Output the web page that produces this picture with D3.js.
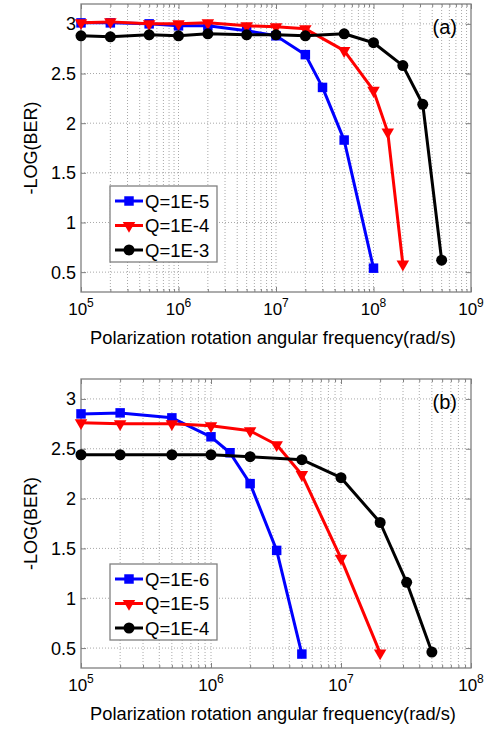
<!DOCTYPE html>
<html>
<head>
<meta charset="utf-8">
<script src="https://cdn.jsdelivr.net/npm/d3@7"></script>
<style>
  body { margin: 0; background: #fff; }
  text { font-family: "Liberation Sans", Arial, sans-serif; fill: #000; }
</style>
</head>
<body>
<div id="chart"></div>
<script>
// ---- panel (a) data ----
const aBlueX  = [1e5, 2e5, 5e5, 1e6, 2e6, 5e6, 1e7, 2e7, 3e7, 5e7, 1e8];
const aBlueY  = [3.01, 3.01, 3.0, 2.98, 2.98, 2.93, 2.88, 2.69, 2.36, 1.83, 0.54];
const aRedX   = [1e5, 2e5, 5e5, 1e6, 2e6, 5e6, 1e7, 2e7, 5e7, 1e8, 1.4e8, 2e8];
const aRedY   = [3.01, 3.02, 3.0, 3.0, 3.01, 2.98, 2.97, 2.95, 2.73, 2.33, 1.91, 0.58];
const aBlackX = [1e5, 2e5, 5e5, 1e6, 2e6, 5e6, 1e7, 2e7, 5e7, 1e8, 2e8, 3.2e8, 5e8];
const aBlackY = [2.88, 2.87, 2.89, 2.88, 2.9, 2.89, 2.89, 2.88, 2.9, 2.81, 2.58, 2.19, 0.62];
const aLegend = ['Q=1E-5', 'Q=1E-4', 'Q=1E-3'];
const aExponents = [5, 6, 7, 8, 9];

// ---- panel (b) data ----
const bBlueX  = [1e5, 2e5, 5e5, 1e6, 1.4e6, 2e6, 3.2e6, 5e6];
const bBlueY  = [2.85, 2.86, 2.81, 2.62, 2.46, 2.15, 1.48, 0.44];
const bRedX   = [1e5, 2e5, 5e5, 1e6, 2e6, 3.2e6, 5e6, 1e7, 2e7];
const bRedY   = [2.76, 2.75, 2.75, 2.73, 2.68, 2.54, 2.24, 1.40, 0.45];
const bBlackX = [1e5, 2e5, 5e5, 1e6, 2e6, 5e6, 1e7, 2e7, 3.2e7, 5e7];
const bBlackY = [2.44, 2.44, 2.44, 2.44, 2.42, 2.39, 2.21, 1.76, 1.16, 0.46];
const bLegend = ['Q=1E-6', 'Q=1E-5', 'Q=1E-4'];
const bExponents = [5, 6, 7, 8];

// shared y ticks
const yTicks = [0.5, 1, 1.5, 2, 2.5, 3];
const yTickLabels = ['0.5', '1', '1.5', '2', '2.5', '3'];
const yDomain = [0.3, 3.2];
const xTitle = 'Polarization rotation angular frequency(rad/s)';
const yTitle = '-LOG(BER)';

const W = 489, H = 732;
const svg = d3.select('#chart').append('svg')
  .attr('width', W).attr('height', H);

const frameColor = '#808080';
const gridColor = '#a8a8a8';

function drawPanel(p) {
  const left = 81, right = 471;
  const x = d3.scaleLog().domain([10 ** p.exps[0], 10 ** p.exps[p.exps.length - 1]]).range([left, right]);
  const y = d3.scaleLinear().domain(yDomain).range([p.bottom, p.top]);
  const g = svg.append('g');

  // minor + major x positions
  const majors = p.exps.map(e => 10 ** e);
  const minors = [];
  p.exps.slice(0, -1).forEach(e => {
    for (let k = 2; k <= 9; k++) minors.push(k * 10 ** e);
  });

  // grid (dotted)
  g.selectAll('.xgrid')
    .data(majors.concat(minors).filter(v => v > x.domain()[0] && v < x.domain()[1]))
    .join('line')
    .attr('x1', d => x(d)).attr('x2', d => x(d))
    .attr('y1', p.top).attr('y2', p.bottom)
    .attr('stroke', gridColor).attr('stroke-width', 1)
    .attr('stroke-dasharray', '1,2');
  g.selectAll('.ygrid')
    .data(yTicks)
    .join('line')
    .attr('x1', left).attr('x2', right)
    .attr('y1', d => y(d)).attr('y2', d => y(d))
    .attr('stroke', gridColor).attr('stroke-width', 1)
    .attr('stroke-dasharray', '1,2');

  // axes with inward ticks, box on all sides
  const bottomAxis = g.append('g').attr('transform', `translate(0,${p.bottom})`)
    .call(d3.axisBottom(x).tickValues(majors).tickSize(-5).tickSizeOuter(0).tickFormat(''));
  const bottomMinor = g.append('g').attr('transform', `translate(0,${p.bottom})`)
    .call(d3.axisBottom(x).tickValues(minors).tickSize(-3).tickSizeOuter(0).tickFormat(''));
  const topAxis = g.append('g').attr('transform', `translate(0,${p.top})`)
    .call(d3.axisTop(x).tickValues(majors).tickSize(-5).tickSizeOuter(0).tickFormat(''));
  const topMinor = g.append('g').attr('transform', `translate(0,${p.top})`)
    .call(d3.axisTop(x).tickValues(minors).tickSize(-3).tickSizeOuter(0).tickFormat(''));
  const leftAxis = g.append('g').attr('transform', `translate(${left},0)`)
    .call(d3.axisLeft(y).tickValues(yTicks).tickSize(-5).tickSizeOuter(0).tickFormat(''));
  const rightAxis = g.append('g').attr('transform', `translate(${right},0)`)
    .call(d3.axisRight(y).tickValues(yTicks).tickSize(-5).tickSizeOuter(0).tickFormat(''));
  [bottomAxis, bottomMinor, topAxis, topMinor, leftAxis, rightAxis].forEach(a => {
    a.selectAll('line').attr('stroke', frameColor);
    a.select('.domain').remove();
  });
  g.append('rect')
    .attr('x', left).attr('y', p.top)
    .attr('width', right - left).attr('height', p.bottom - p.top)
    .attr('fill', 'none').attr('stroke', frameColor).attr('stroke-width', 1.3);

  // tick labels
  g.selectAll('.ylab')
    .data(yTicks)
    .join('text')
    .attr('x', left - 5).attr('y', d => y(d)).attr('dy', '0.36em')
    .attr('text-anchor', 'end').style('font-size', '18px')
    .text((d, i) => yTickLabels[i]);

  const xl = g.selectAll('.xlab')
    .data(p.exps)
    .join('text')
    .attr('x', d => x(10 ** d)).attr('y', p.bottom + 23)
    .attr('text-anchor', 'middle').style('font-size', '17px');
  xl.append('tspan').text('10');
  xl.append('tspan').attr('dy', -8).style('font-size', '12px').text(d => d);

  // axis titles
  g.append('text')
    .attr('x', (left + right) / 2 - 3).attr('y', p.bottom + 52)
    .attr('text-anchor', 'middle').style('font-size', '18.3px')
    .text(xTitle);
  g.append('text')
    .attr('transform', `translate(37,${(p.top + p.bottom) / 2}) rotate(-90)`)
    .attr('text-anchor', 'middle').style('font-size', '18px')
    .text(yTitle);

  // panel tag
  g.append('text')
    .attr('x', right - 14).attr('y', p.top + 30)
    .attr('text-anchor', 'end').style('font-size', '20px')
    .text(p.tag);

  // series
  const line = d3.line().x(d => x(d[0])).y(d => y(d[1]));
  p.series.forEach(s => {
    const pts = s.xs.map((v, i) => [v, s.ys[i]]);
    g.append('path')
      .datum(pts)
      .attr('d', line)
      .attr('fill', 'none').attr('stroke', s.color).attr('stroke-width', 3)
      .attr('stroke-linejoin', 'round');
    g.selectAll(null)
      .data(pts)
      .join('path')
      .attr('d', s.symbol)
      .attr('transform', d => `translate(${x(d[0])},${y(d[1])})` + (s.flip ? ' rotate(180)' : ''))
      .attr('fill', s.color);
  });

  // legend
  const lg = g.append('g');
  lg.append('rect')
    .attr('x', 110).attr('y', p.legendTop)
    .attr('width', 107).attr('height', 76)
    .attr('fill', '#fff').attr('stroke', frameColor).attr('stroke-width', 1.3);
  p.series.forEach((s, i) => {
    const ry = p.legendTop + 15 + i * 24.5;
    lg.append('line')
      .attr('x1', 115).attr('x2', 143).attr('y1', ry).attr('y2', ry)
      .attr('stroke', s.color).attr('stroke-width', 3);
    lg.append('path')
      .attr('d', s.symbol)
      .attr('transform', `translate(129,${ry})` + (s.flip ? ' rotate(180)' : ''))
      .attr('fill', s.color);
    lg.append('text')
      .attr('x', 145).attr('y', ry).attr('dy', '0.36em')
      .style('font-size', '18.5px')
      .text(p.legend[i]);
  });
}

const squareSym = d3.symbol().type(d3.symbolSquare).size(90)();
const triSym = d3.symbol().type(d3.symbolTriangle).size(68)();
const circleSym = d3.symbol().type(d3.symbolCircle).size(95)();

drawPanel({
  top: 4, bottom: 292, exps: aExponents, tag: '(a)', legend: aLegend, legendTop: 186,
  series: [
    { xs: aBlueX, ys: aBlueY, color: '#0000ff', symbol: squareSym },
    { xs: aRedX, ys: aRedY, color: '#ff0000', symbol: triSym, flip: true },
    { xs: aBlackX, ys: aBlackY, color: '#000000', symbol: circleSym }
  ]
});

drawPanel({
  top: 379, bottom: 668, exps: bExponents, tag: '(b)', legend: bLegend, legendTop: 564,
  series: [
    { xs: bBlueX, ys: bBlueY, color: '#0000ff', symbol: squareSym },
    { xs: bRedX, ys: bRedY, color: '#ff0000', symbol: triSym, flip: true },
    { xs: bBlackX, ys: bBlackY, color: '#000000', symbol: circleSym }
  ]
});
</script>
</body>
</html>
